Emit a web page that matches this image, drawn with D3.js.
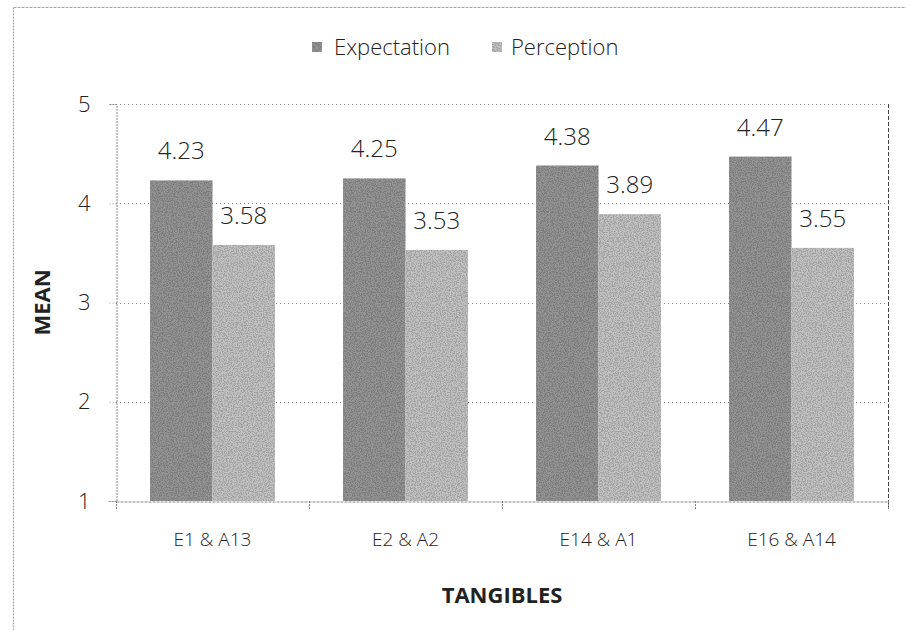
<!DOCTYPE html>
<html>
<head>
<meta charset="utf-8">
<script src="https://cdn.jsdelivr.net/npm/d3@7"></script>
<style>
  html, body { margin: 0; padding: 0; background: #fff; }
  svg { display: block; font-family: "Open Sans", "Noto Sans", sans-serif; }
</style>
</head>
<body>
<svg id="chart" width="906" height="630"></svg>
<script>
// Chart data
const categories = ["E1 & A13", "E2 & A2", "E14 & A1", "E16 & A14"];
const seriesNames = ["Expectation", "Perception"];
const expectation = [4.23, 4.25, 4.38, 4.47];
const perception = [3.58, 3.53, 3.89, 3.55];
const yTicks = [1, 2, 3, 4, 5];
const xTitle = "TANGIBLES";
const yTitle = "MEAN";

const seriesValues = [expectation, perception];
const colors = ["#939393", "#c0c0c0"];

const svg = d3.select("#chart");
const W = 906, H = 630;
const plot = { left: 116, right: 888, top: 104, bottom: 501 };

// Grain texture used on the bars
const defs = svg.append("defs");
const grain = defs.append("filter").attr("id", "grain")
  .attr("x", 0).attr("y", 0).attr("width", 1).attr("height", 1);
grain.append("feTurbulence").attr("type", "fractalNoise")
  .attr("baseFrequency", 0.8).attr("numOctaves", 2).attr("seed", 3).attr("result", "noise");
grain.append("feColorMatrix").attr("in", "noise").attr("type", "matrix")
  .attr("values", "0 0 0 0 0  0 0 0 0 0  0 0 0 0 0  0 0 0 -5 2.9").attr("result", "dots");
grain.append("feComposite").attr("in", "dots").attr("in2", "SourceGraphic").attr("operator", "in").attr("result", "dotsIn");
grain.append("feComponentTransfer").attr("in", "dotsIn").attr("result", "dotsSoft")
  .append("feFuncA").attr("type", "linear").attr("slope", 0.3);
const merge = grain.append("feMerge");
merge.append("feMergeNode").attr("in", "SourceGraphic");
merge.append("feMergeNode").attr("in", "dotsSoft");

// Outer frame (top and left edges)
svg.append("line").attr("x1", 13.5).attr("y1", 7.5).attr("x2", W).attr("y2", 7.5)
  .attr("stroke", "#aaa").attr("stroke-width", 1).attr("stroke-dasharray", "3,1");
svg.append("line").attr("x1", 13.5).attr("y1", 7.5).attr("x2", 13.5).attr("y2", H)
  .attr("stroke", "#aaa").attr("stroke-width", 1.2).attr("stroke-dasharray", "2,1");

// Scales
const x0 = d3.scaleBand().domain(categories).range([plot.left, plot.right]).padding(0);
const x1 = d3.scaleBand().domain(seriesNames).range([0, x0.bandwidth()])
  .paddingInner(0).paddingOuter(0.545);
const y = d3.scaleLinear().domain([1, 5]).range([plot.bottom, plot.top]);

// Horizontal gridlines
svg.append("g").selectAll("line").data(yTicks.filter(t => t > 1)).join("line")
  .attr("x1", plot.left).attr("x2", plot.right)
  .attr("y1", d => Math.round(y(d)) + 0.5).attr("y2", d => Math.round(y(d)) + 0.5)
  .attr("stroke", "#8a8a8a").attr("stroke-width", 1).attr("stroke-dasharray", "1,3");

// Right edge of the plot area
svg.append("line").attr("x1", plot.right + 0.5).attr("x2", plot.right + 0.5)
  .attr("y1", plot.top).attr("y2", plot.bottom + 8)
  .attr("stroke", "#444").attr("stroke-width", 1).attr("stroke-dasharray", "4,2");

// Bars
const groups = svg.append("g").selectAll("g").data(categories).join("g")
  .attr("transform", d => `translate(${x0(d)},0)`);
groups.selectAll("rect")
  .data((c, i) => seriesNames.map((s, j) => ({ s, j, v: seriesValues[j][i] })))
  .join("rect")
  .attr("x", d => x1(d.s))
  .attr("y", d => y(d.v))
  .attr("width", x1.bandwidth())
  .attr("height", d => y(1) - y(d.v))
  .attr("fill", d => colors[d.j])
  .attr("filter", "url(#grain)");

// Value labels
groups.selectAll("text")
  .data((c, i) => seriesNames.map((s, j) => ({ s, j, v: seriesValues[j][i] })))
  .join("text")
  .attr("x", d => x1(d.s) + x1.bandwidth() / 2)
  .attr("y", d => y(d.v) - 21)
  .attr("text-anchor", "middle")
  .attr("font-size", 24)
  .attr("font-weight", 300)
  .attr("fill", "#222")
  .text(d => d.v.toFixed(2));

// Y axis
const yAxis = svg.append("g").attr("transform", `translate(${plot.left + 0.5},0)`)
  .call(d3.axisLeft(y).tickValues(yTicks).tickSize(8).tickPadding(18).tickFormat(d3.format("d")));
yAxis.select(".domain").attr("stroke", "#888").attr("stroke-dasharray", "2,1");
yAxis.selectAll(".tick line").attr("stroke", "#999").attr("stroke-dasharray", "1,2");
yAxis.selectAll(".tick text").attr("font-size", 22).attr("font-weight", 300).attr("fill", "#222")
  .attr("font-family", "'Open Sans', sans-serif");

// X axis
const xAxis = svg.append("g").attr("transform", `translate(0,${plot.bottom + 0.5})`)
  .call(d3.axisBottom(x0).tickSize(0).tickPadding(31));
xAxis.select(".domain").attr("stroke", "#888").attr("stroke-dasharray", "3,1");
xAxis.selectAll(".tick text").attr("font-size", 19).attr("font-weight", 300).attr("fill", "#222")
  .attr("font-family", "'Open Sans', sans-serif");
// Category boundary ticks
svg.append("g").selectAll("line")
  .data(categories.map(c => x0(c)).concat([plot.right]))
  .join("line")
  .attr("x1", d => Math.round(d) + 0.5).attr("x2", d => Math.round(d) + 0.5)
  .attr("y1", plot.bottom).attr("y2", plot.bottom + 9)
  .attr("stroke", "#888").attr("stroke-dasharray", "2,1");

// Axis titles
svg.append("text")
  .attr("x", (plot.left + plot.right) / 2).attr("y", 603)
  .attr("text-anchor", "middle").attr("font-size", 22).attr("font-weight", "bold")
  .attr("fill", "#222").text(xTitle);
svg.append("text")
  .attr("transform", `translate(50,${(plot.top + plot.bottom) / 2}) rotate(-90)`)
  .attr("text-anchor", "middle").attr("font-size", 22).attr("font-weight", "bold")
  .attr("fill", "#222").text(yTitle);

// Legend
const legendItems = [
  { name: seriesNames[0], color: colors[0], sx: 312, tx: 334 },
  { name: seriesNames[1], color: colors[1], sx: 492, tx: 511 }
];
const legend = svg.append("g");
legend.selectAll("rect").data(legendItems).join("rect")
  .attr("x", d => d.sx).attr("y", 42).attr("width", 10).attr("height", 10)
  .attr("fill", d => d.color).attr("filter", "url(#grain)");
legend.selectAll("text").data(legendItems).join("text")
  .attr("x", d => d.tx).attr("y", 55)
  .attr("font-size", 22).attr("font-weight", 300).attr("fill", "#222")
  .text(d => d.name);
</script>
</body>
</html>
